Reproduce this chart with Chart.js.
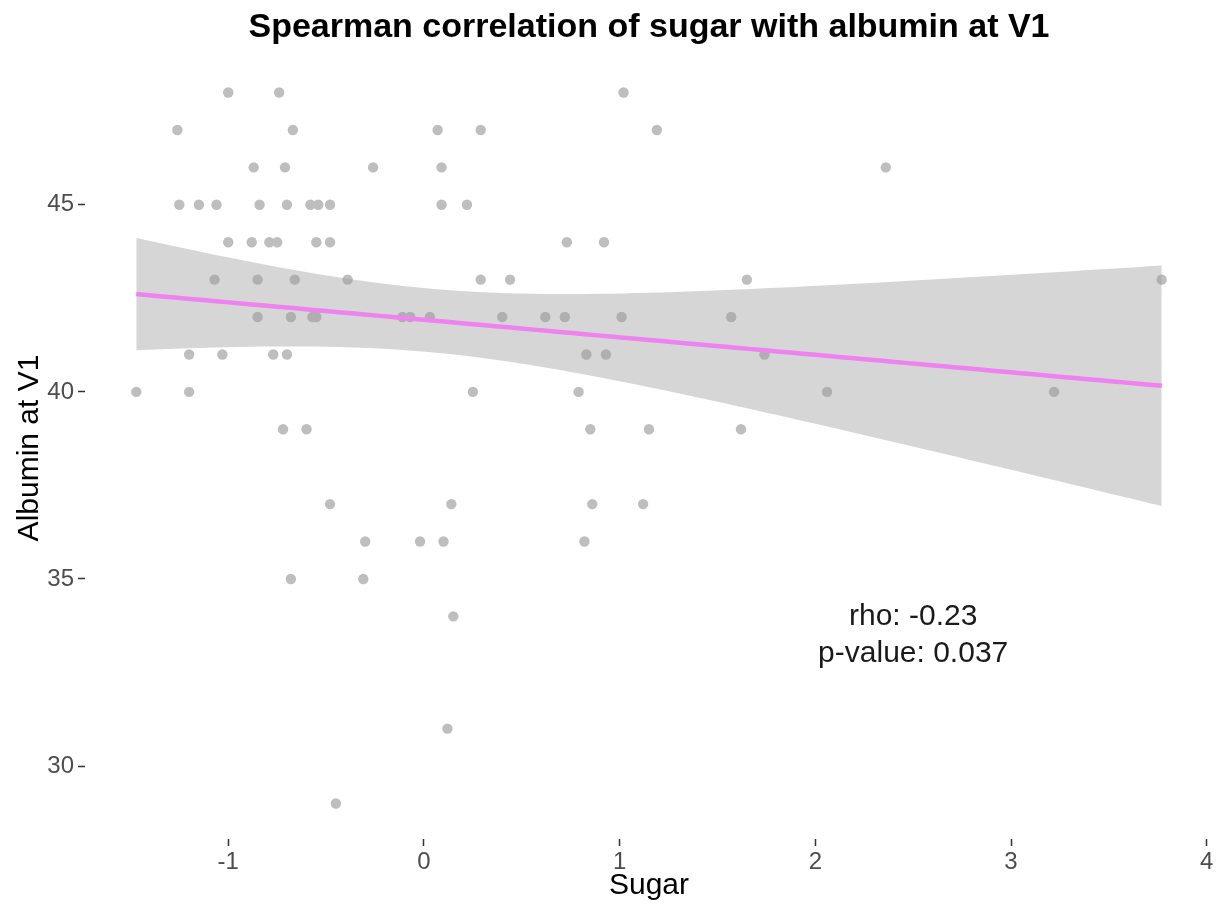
<!DOCTYPE html>
<html>
<head>
<meta charset="utf-8">
<title>Spearman correlation of sugar with albumin at V1</title>
<script src="https://cdn.jsdelivr.net/npm/chart.js@4.4.1/dist/chart.umd.min.js"></script>
<style>
    html, body { margin: 0; padding: 0; background: #ffffff; }
    #graphe { display: block; }
</style>
</head>
<body>
<canvas id="graphe" width="1221" height="908"></canvas>
<script>
// Valeurs lues ligne par ligne (albumin entière, sugar en abscisse)
const sugar = [
    -1.00, -0.74, 1.02,
    -1.26, -0.67, 0.07, 0.29, 1.19,
    -0.87, -0.71, -0.26, 0.09, 2.36,
    -1.25, -1.15, -1.06, -0.84, -0.70, -0.58, -0.54, -0.48, 0.09, 0.22,
    -1.00, -0.88, -0.79, -0.75, -0.55, -0.48, 0.73, 0.92,
    -1.07, -0.85, -0.66, -0.39, 0.29, 0.44, 1.65, 3.77,
    -0.85, -0.68, -0.57, -0.55, -0.11, -0.07, 0.03, 0.40, 0.62, 0.72, 1.01, 1.57,
    -1.20, -1.03, -0.77, -0.70, 0.83, 0.93, 1.74,
    -1.47, -1.20, 0.25, 0.79, 2.06, 3.22,
    -0.72, -0.60, 0.85, 1.15, 1.62,
    -0.48, 0.14, 0.86, 1.12,
    -0.30, -0.02, 0.10, 0.82,
    -0.68, -0.31,
    0.15,
    0.12,
    -0.45
];
const albumin = [
    48, 48, 48,
    47, 47, 47, 47, 47,
    46, 46, 46, 46, 46,
    45, 45, 45, 45, 45, 45, 45, 45, 45, 45,
    44, 44, 44, 44, 44, 44, 44, 44,
    43, 43, 43, 43, 43, 43, 43, 43,
    42, 42, 42, 42, 42, 42, 42, 42, 42, 42, 42, 42,
    41, 41, 41, 41, 41, 41, 41,
    40, 40, 40, 40, 40, 40,
    39, 39, 39, 39, 39,
    37, 37, 37, 37,
    36, 36, 36, 36,
    35, 35,
    34,
    31,
    29
];

const xTicks = [-1, 0, 1, 2, 3, 4];
const yTicks = [30, 35, 40, 45];

const annotationLines = ['rho: -0.23', 'p-value: 0.037'];
const annotationX = 2.5;
const annotationY = [34, 33];

const titre = 'Spearman correlation of sugar with albumin at V1';
const titreX = 'Sugar';
const titreY = 'Albumin at V1';

const FONT = '"Liberation Sans", Arial, Helvetica, sans-serif';
const tCrit = 1.99; // quantile t à 97.5 %, ~80 ddl

// Régression linéaire + intervalle de confiance (comme geom_smooth(method = "lm"))
function linearFit(xs, ys) {
    const n = xs.length;
    const mx = xs.reduce((a, b) => a + b, 0) / n;
    const my = ys.reduce((a, b) => a + b, 0) / n;
    let sxx = 0, sxy = 0;
    for (let i = 0; i < n; i++) {
        sxx += (xs[i] - mx) * (xs[i] - mx);
        sxy += (xs[i] - mx) * (ys[i] - my);
    }
    const b = sxy / sxx;
    const a = my - b * mx;
    let sse = 0;
    for (let i = 0; i < n; i++) {
        const r = ys[i] - (a + b * xs[i]);
        sse += r * r;
    }
    const s = Math.sqrt(sse / (n - 2));
    return { a, b, s, n, mx, sxx };
}

const fit = linearFit(sugar, albumin);
const xLow = Math.min(...sugar);
const xHigh = Math.max(...sugar);

const fitLine = [], bandHaut = [], bandBas = [];
for (let i = 0; i <= 80; i++) {
    const x = xLow + (xHigh - xLow) * i / 80;
    const y = fit.a + fit.b * x;
    const se = fit.s * Math.sqrt(1 / fit.n + (x - fit.mx) * (x - fit.mx) / fit.sxx);
    fitLine.push({ x: x, y: y });
    bandHaut.push({ x: x, y: y + tCrit * se });
    bandBas.push({ x: x, y: y - tCrit * se });
}

// Étendue des axes avec 5 % de marge de chaque côté
const xPad = (xHigh - xLow) * 0.05;
const yPad = (Math.max(...albumin) - Math.min(...albumin)) * 0.05;

const points = sugar.map((x, i) => ({ x: x, y: albumin[i] }));

// Titre, titres des axes et texte rho / p-value
const textesPlugin = {
    id: 'textes',
    afterDraw(chart) {
        const ctx = chart.ctx;
        const area = chart.chartArea;
        const cx = (area.left + area.right) / 2;
        ctx.save();
        ctx.textAlign = 'center';
        ctx.textBaseline = 'middle';

        ctx.fillStyle = '#000000';
        ctx.font = 'bold 34px ' + FONT;
        ctx.fillText(titre, cx, 28);

        ctx.font = '30px ' + FONT;
        ctx.fillText(titreX, cx, 886);

        ctx.save();
        ctx.translate(30, (area.top + area.bottom) / 2);
        ctx.rotate(-Math.PI / 2);
        ctx.fillText(titreY, 0, 0);
        ctx.restore();

        ctx.fillStyle = '#1a1a1a';
        const px = chart.scales.x.getPixelForValue(annotationX);
        annotationLines.forEach((ligne, i) => {
            ctx.fillText(ligne, px, chart.scales.y.getPixelForValue(annotationY[i]));
        });
        ctx.restore();
    }
};

const ctx = document.getElementById('graphe').getContext('2d');
const chartInstance = new Chart(ctx, {
    type: 'scatter',
    data: {
        datasets: [
            {
                type: 'line',
                data: fitLine,
                borderColor: '#EE82EE',
                borderWidth: 4.5,
                pointRadius: 0,
                fill: false,
                order: 0
            },
            {
                type: 'line',
                data: bandHaut,
                borderColor: 'rgba(0,0,0,0)',
                backgroundColor: 'rgba(153,153,153,0.4)',
                pointRadius: 0,
                fill: '+1',
                order: 1
            },
            {
                type: 'line',
                data: bandBas,
                borderColor: 'rgba(0,0,0,0)',
                pointRadius: 0,
                fill: false,
                order: 2
            },
            {
                data: points,
                backgroundColor: '#BEBEBE',
                borderWidth: 0,
                pointRadius: 5.2,
                order: 3
            }
        ]
    },
    options: {
        responsive: false,
        animation: false,
        events: [],
        layout: {
            padding: { top: 57, right: 8, left: 0, bottom: 0 }
        },
        plugins: {
            legend: { display: false },
            tooltip: { enabled: false }
        },
        scales: {
            x: {
                type: 'linear',
                min: xLow - xPad,
                max: xHigh + xPad,
                afterBuildTicks: scale => { scale.ticks = xTicks.map(v => ({ value: v })); },
                afterFit: scale => { scale.height = 69; },
                ticks: {
                    color: '#4D4D4D',
                    font: { family: FONT, size: 24 },
                    padding: 2,
                    maxRotation: 0,
                    callback: v => String(v)
                },
                grid: {
                    drawOnChartArea: false,
                    drawTicks: true,
                    tickLength: 7,
                    color: '#333333',
                    tickWidth: 1.5
                },
                border: { display: false }
            },
            y: {
                type: 'linear',
                min: Math.min(...albumin) - yPad,
                max: Math.max(...albumin) + yPad,
                afterBuildTicks: scale => { scale.ticks = yTicks.map(v => ({ value: v })); },
                afterFit: scale => { scale.width = 85; },
                ticks: {
                    color: '#4D4D4D',
                    font: { family: FONT, size: 24 },
                    padding: 4,
                    callback: v => String(v)
                },
                grid: {
                    drawOnChartArea: false,
                    drawTicks: true,
                    tickLength: 7,
                    color: '#333333',
                    tickWidth: 1.5
                },
                border: { display: false }
            }
        }
    },
    plugins: [textesPlugin]
});
</script>
</body>
</html>
